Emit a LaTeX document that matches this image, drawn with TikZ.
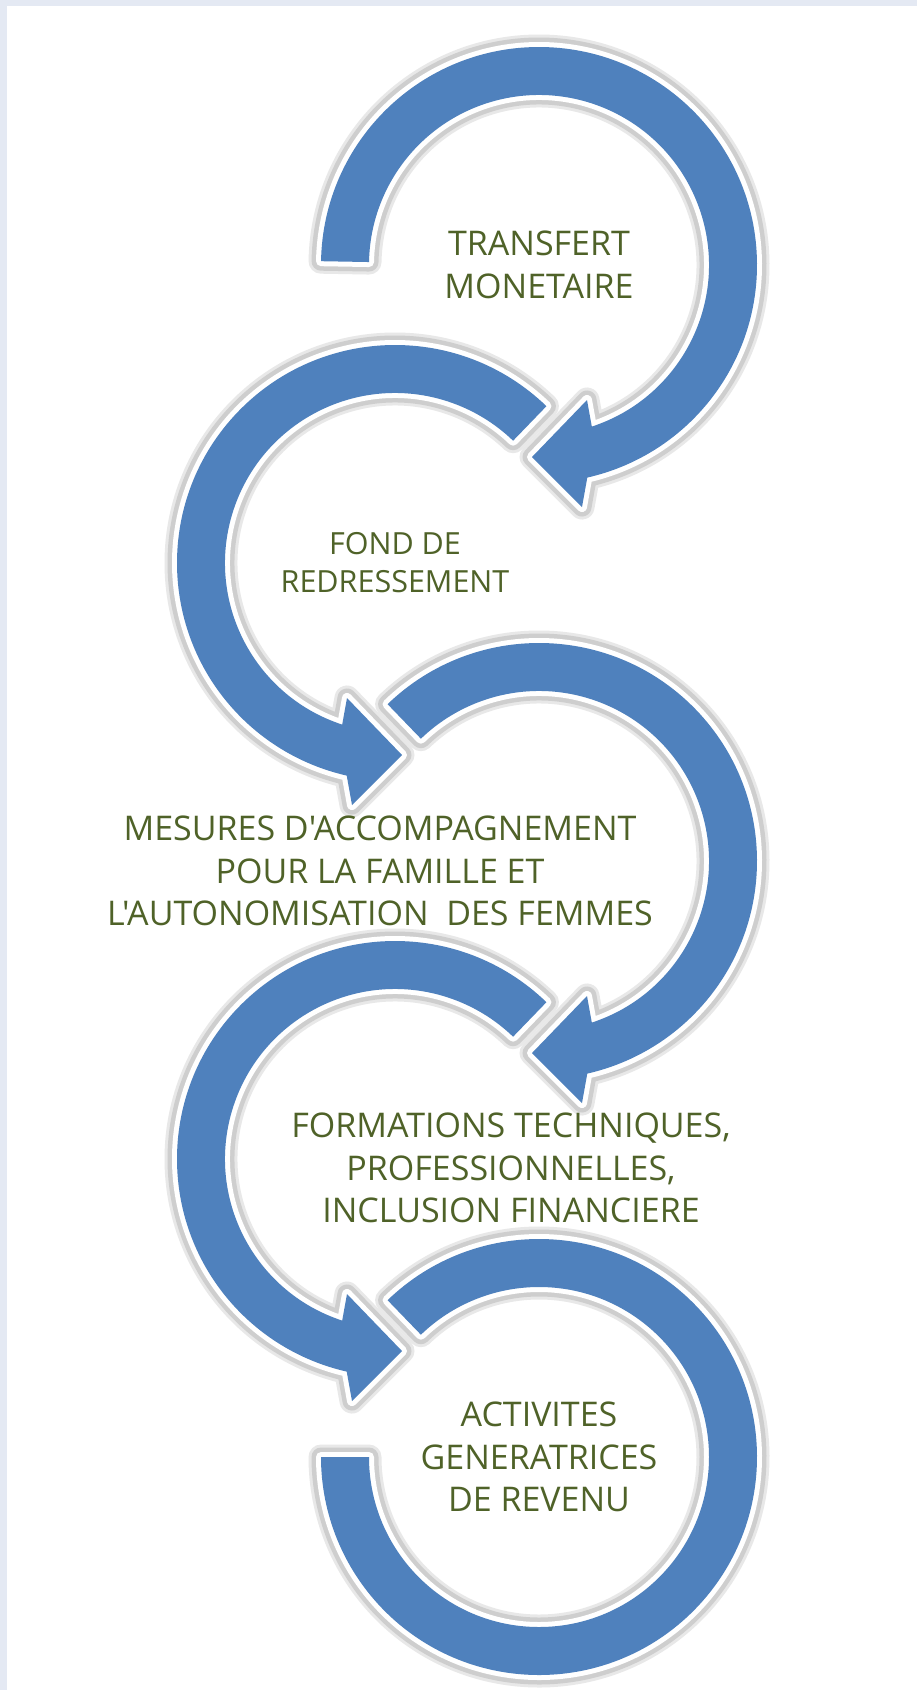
\documentclass[tikz,border=0pt]{standalone}
\usepackage{fontspec}
\setmainfont{Open Sans}[Ligatures=TeXOff]
\definecolor{ringblue}{RGB}{79,129,189}
\definecolor{txtgreen}{RGB}{79,98,40}
\definecolor{framebg}{RGB}{228,233,243}
\definecolor{halosoft}{RGB}{232,232,232}
\definecolor{halogray}{RGB}{206,206,206}
\tikzset{
  ring/.style={fill=ringblue,
    preaction={draw=halosoft,line width=25pt,line join=round},
    preaction={draw=halogray,line width=19pt,line join=round},
    preaction={draw=white,line width=10pt,line join=round}},
  lbl/.style={text=txtgreen, align=center, inner sep=0pt,
    font=\fontsize{34}{42.5}\selectfont},
  lblsmall/.style={lbl, font=\fontsize{30.5}{38}\selectfont}
}
\begin{document}
\begin{tikzpicture}[x=1pt,y=1pt]
\useasboundingbox (0,0) rectangle (917,-1690);
\fill[framebg] (0,0) rectangle (917,-1690);
\fill[white] (7,-6) rectangle (917,-1690);
% ring 1
\begin{scope}[shift={(539,-265)}]
\path[ring] (179:218) arc[start angle=179,end angle=-77.2,radius=218]
  -- (43,-242) -- (-7,-192) -- (48,-135) -- (-71.9:170)
  arc[start angle=-71.9,end angle=179,radius=170] -- cycle;
\end{scope}
% ring 2
\begin{scope}[shift={(395,-563)}]
\path[ring] (46:218) arc[start angle=46,end angle=257.2,radius=218]
  -- (-43,-242) -- (7,-192) -- (-48,-135) -- (251.9:170)
  arc[start angle=251.9,end angle=46,radius=170] -- cycle;
\end{scope}
% ring 3
\begin{scope}[shift={(539,-861)}]
\path[ring] (134:218) arc[start angle=134,end angle=-77.2,radius=218]
  -- (43,-242) -- (-7,-192) -- (48,-135) -- (-71.9:170)
  arc[start angle=-71.9,end angle=134,radius=170] -- cycle;
\end{scope}
% ring 4
\begin{scope}[shift={(395,-1159)}]
\path[ring] (46:218) arc[start angle=46,end angle=257.2,radius=218]
  -- (-43,-242) -- (7,-192) -- (-48,-135) -- (251.9:170)
  arc[start angle=251.9,end angle=46,radius=170] -- cycle;
\end{scope}
% ring 5
\begin{scope}[shift={(539,-1457)}]
\path[ring] (134:218) arc[start angle=134,end angle=-180,radius=218]
  -- (-180:170) arc[start angle=-180,end angle=134,radius=170] -- cycle;
\end{scope}
% labels
\node[lbl] (t1) at (539,-265) {TRANSFERT\\MONETAIRE};
\node[lblsmall] (t2) at (395,-563) {FOND DE\\REDRESSEMENT};
\node[lbl] (t3) at (380,-871) {MESURES D'ACCOMPAGNEMENT\\POUR LA FAMILLE ET\\L'AUTONOMISATION~ DES FEMMES};
\node[lbl] (t4) at (511,-1168) {FORMATIONS TECHNIQUES,\\PROFESSIONNELLES,\\INCLUSION FINANCIERE};
\node[lbl] (t5) at (539,-1457) {ACTIVITES\\GENERATRICES\\DE REVENU};
\end{tikzpicture}
\end{document}
